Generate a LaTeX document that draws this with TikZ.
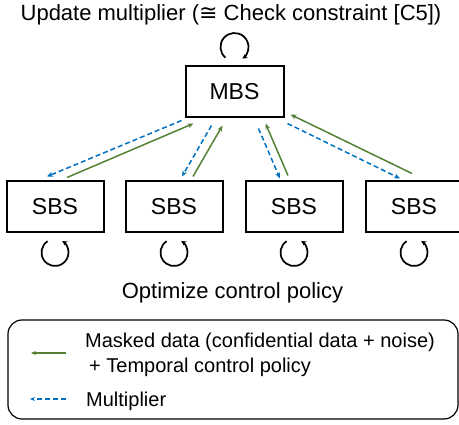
\documentclass[tikz,border=0pt]{standalone}
\usepackage{fontspec}
\setmainfont{Liberation Sans}
\newfontfamily\symfont{DejaVu Sans}
\usetikzlibrary{arrows.meta,calc}
\definecolor{mgreen}{RGB}{84,130,53}
\definecolor{mblue}{RGB}{0,112,192}
\begin{document}
\begin{tikzpicture}[x=1pt,y=-1pt,
  box/.style={draw,line width=2pt,minimum width=97pt,minimum height=51pt,inner sep=0pt,
    font=\fontsize{23}{26}\selectfont},
  lbl/.style={anchor=base,inner sep=0pt,font=\fontsize{22}{26}\selectfont},
  legtxt/.style={anchor=base west,inner sep=0pt,font=\fontsize{20}{24}\selectfont},
  garrow/.style={draw=mgreen,line width=1.5pt,-{Stealth[length=6pt,width=5pt]}},
  barrow/.style={draw=mblue,line width=1.5pt,dash pattern=on 5pt off 3pt,-{Stealth[length=6pt,width=5pt]}},
  loopst/.style={line width=1.7pt,-{Stealth[length=5pt,width=5pt]}},
  legendbox/.style={draw,line width=1.2pt,rounded corners=14pt,minimum width=450pt,minimum height=99pt,inner sep=0pt}]
\useasboundingbox (0,0) rectangle (459,425);
\clip (0,0) rectangle (459,425);

% title and caption
\node[lbl] (title) at (231,21) {Update multiplier ({\symfont ≅} Check constraint [C5])};
\node[lbl] (caption) at (232.5,299) {Optimize control policy};

% boxes
\node[box,minimum width=98pt] (mbs) at (234.5,92) {MBS};
\node[box] (s1) at (55,207) {SBS};
\node[box] (s2) at (174,207) {SBS};
\node[box] (s3) at (294,207) {SBS};
\node[box] (s4) at (414,207) {SBS};

% self loops
\draw[loopst] ($(mbs.north)+(0,-18.5)$) ++(130:14) arc[start angle=130,end angle=416,radius=14];
\foreach \n in {s1,s2,s3,s4}{
  \draw[loopst] ($(\n.south)+(0,19)$) ++(237:13.5) arc[start angle=237,end angle=-58,radius=13.5];
}

% connectors
\draw[barrow] ($(mbs.south west)+(-3,2)$) -- ($(s1.north)+(-8,-4)$);
\draw[garrow] ($(s1.north)+(12,-3)$) -- ($(mbs.south west)+(9,5)$);
\draw[barrow] ($(mbs.south west)+(27,7)$) -- ($(s2.north)+(8,-4)$);
\draw[garrow] ($(s2.north)+(19,-4)$) -- ($(mbs.south west)+(38,7)$);
\draw[barrow] ($(mbs.south east)+(-26,10)$) -- ($(s3.north)+(-14,-2)$);
\draw[garrow] ($(s3.north)+(-6,-5)$) -- ($(mbs.south east)+(-19,5)$);
\draw[barrow] ($(mbs.south east)+(3,5)$) -- ($(s4.north)+(-14,-2)$);
\draw[garrow] ($(s4.north)+(-2,-7)$) -- ($(mbs.south east)+(6,-4)$);

% legend
\node[legendbox] (legend) at (233,369.5) {};
\node[legtxt] (lg1) at (85,348) {Masked data (confidential data + noise)};
\node[legtxt] (lg2) at (89,373) {+ Temporal control policy};
\node[legtxt] (lg3) at (86,407) {Multiplier};
\coordinate (ga) at (66,353);
\coordinate (gb) at (31,353);
\coordinate (ba) at (66,399);
\coordinate (bb) at (30,399);
\draw[garrow,line width=1.3pt,-{Stealth[length=5pt,width=4pt]}] (ga) -- (gb);
\draw[barrow,line width=1.3pt,-{Stealth[length=5pt,width=4pt]}] (ba) -- (bb);
\end{tikzpicture}
\end{document}
